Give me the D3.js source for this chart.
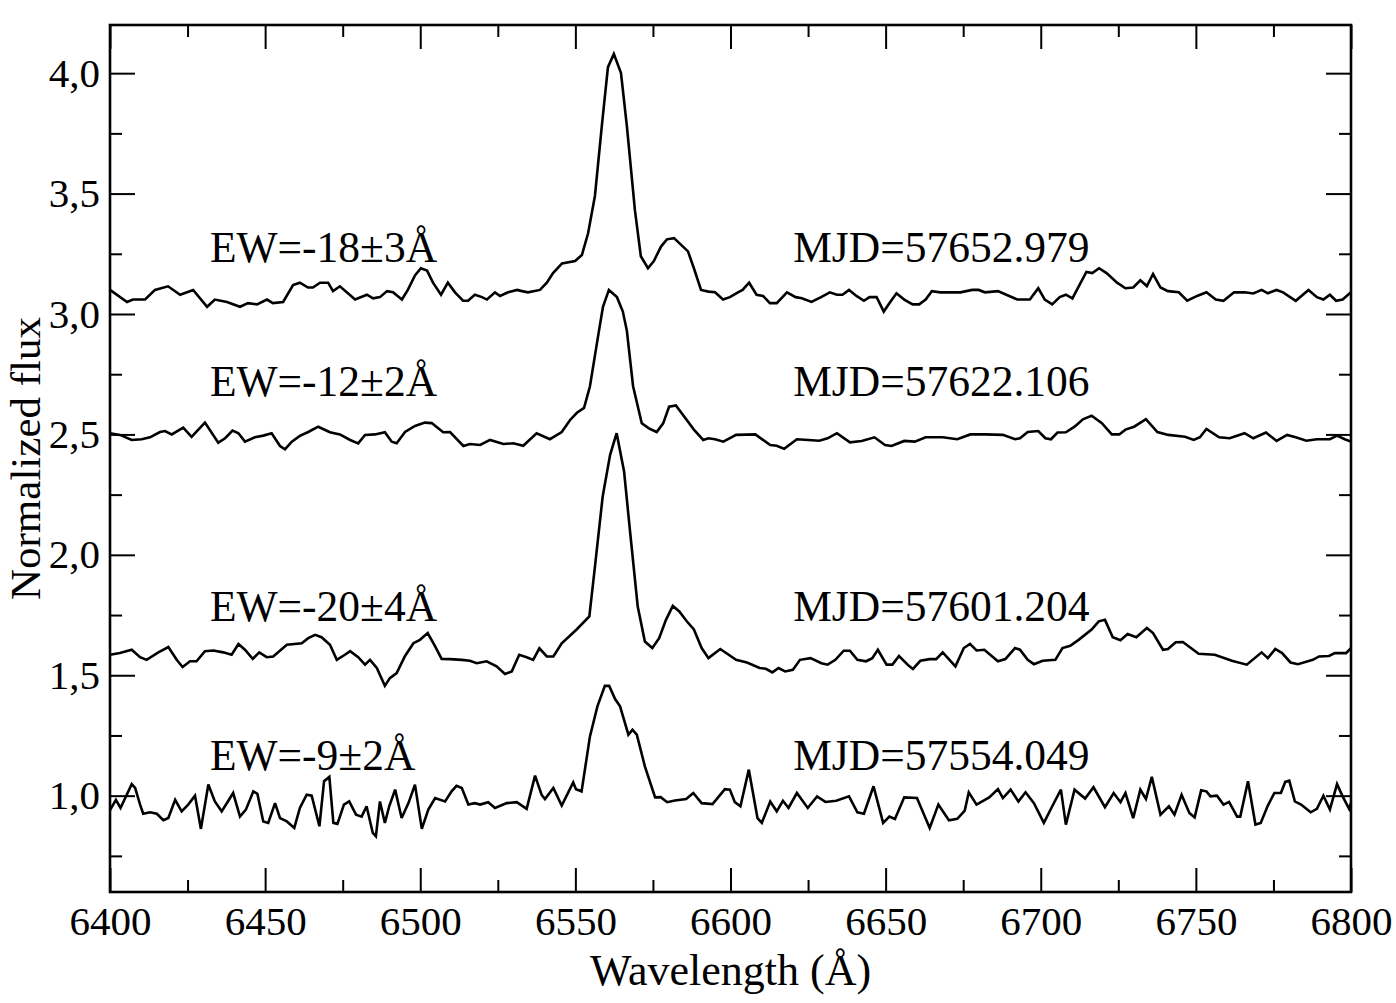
<!DOCTYPE html>
<html>
<head>
<meta charset="utf-8">
<script src="https://cdn.jsdelivr.net/npm/d3@7"></script>
<style>
  body { margin: 0; background: #fff; }
  text { font-family: "Liberation Serif", "Times New Roman", serif; fill: #000; }
</style>
</head>
<body>
<div id="viz"></div>
<script>
// ===== DATA =====
const mjdLabels = ['MJD=57652.979', 'MJD=57622.106', 'MJD=57601.204', 'MJD=57554.049'];
const ewLabels = ['EW=-18±3Å', 'EW=-12±2Å', 'EW=-20±4Å', 'EW=-9±2Å'];

const wave57652 = [6400.0,6405.5,6407.4,6411.3,6414.5,6418.7,6422.6,6426.8,6431.3,6433.8,6437.7,6441.9,6444.5,6447.4,6450.6,6452.5,6455.8,6459.0,6461.2,6463.8,6465.4,6467.7,6470.3,6471.9,6474.1,6479.0,6482.8,6484.8,6487.0,6489.3,6491.2,6494.1,6496.0,6498.3,6500.2,6502.2,6504.1,6506.7,6508.9,6511.2,6513.8,6515.4,6517.6,6519.9,6521.5,6524.1,6525.7,6528.3,6531.2,6532.8,6534.7,6538.6,6540.8,6542.8,6545.7,6549.9,6552.1,6554.1,6556.3,6558.6,6560.5,6562.4,6564.7,6566.6,6569.2,6571.1,6573.4,6575.3,6577.6,6579.5,6581.8,6586.3,6588.2,6590.5,6592.9,6595.0,6597.6,6599.8,6602.4,6603.9,6606.0,6608.4,6610.5,6612.7,6614.9,6618.2,6621.0,6623.0,6626.1,6629.2,6632.0,6634.3,6636.1,6638.2,6640.6,6643.0,6644.8,6647.1,6649.4,6651.2,6653.5,6656.0,6658.7,6660.8,6662.9,6664.9,6667.6,6671.1,6674.1,6677.9,6680.0,6682.0,6686.2,6688.9,6692.4,6696.5,6699.2,6701.3,6703.7,6706.1,6708.1,6710.2,6714.7,6716.6,6718.8,6721.2,6724.6,6727.3,6729.8,6732.1,6734.2,6736.2,6738.6,6741.0,6744.5,6747.2,6750.4,6753.4,6756.4,6758.9,6762.3,6765.7,6768.5,6771.2,6773.2,6776.0,6778.1,6782.2,6786.3,6789.0,6791.1,6793.2,6795.2,6797.3,6800.0];
const flux57652 = [3.10,3.05,3.06,3.06,3.10,3.115,3.08,3.10,3.03,3.06,3.05,3.03,3.045,3.04,3.06,3.045,3.05,3.12,3.13,3.11,3.11,3.13,3.13,3.095,3.115,3.06,3.08,3.065,3.07,3.095,3.09,3.06,3.10,3.16,3.19,3.18,3.13,3.08,3.13,3.09,3.055,3.055,3.08,3.07,3.06,3.09,3.075,3.09,3.10,3.095,3.09,3.10,3.13,3.17,3.21,3.22,3.245,3.335,3.49,3.79,4.025,4.08,4.00,3.78,3.43,3.24,3.19,3.22,3.28,3.31,3.315,3.26,3.19,3.10,3.093,3.09,3.06,3.07,3.09,3.10,3.13,3.08,3.075,3.045,3.045,3.09,3.07,3.065,3.05,3.07,3.09,3.08,3.08,3.10,3.075,3.055,3.07,3.07,3.01,3.045,3.086,3.06,3.04,3.04,3.06,3.095,3.09,3.09,3.09,3.10,3.10,3.09,3.095,3.08,3.06,3.06,3.107,3.06,3.04,3.07,3.08,3.065,3.175,3.17,3.19,3.17,3.13,3.107,3.11,3.14,3.116,3.166,3.11,3.095,3.09,3.055,3.075,3.09,3.06,3.055,3.09,3.09,3.085,3.10,3.086,3.10,3.09,3.055,3.10,3.07,3.06,3.08,3.055,3.06,3.09];

const wave57622 = [6400.0,6403.2,6407.0,6410.2,6412.9,6416.1,6417.7,6419.9,6423.6,6426.3,6430.6,6434.9,6437.1,6439.5,6441.4,6443.5,6446.7,6449.4,6452.1,6454.8,6456.4,6458.6,6461.2,6463.9,6467.1,6470.9,6474.1,6477.4,6480.0,6482.2,6485.4,6488.6,6490.8,6492.4,6495.1,6498.3,6501.5,6503.7,6507.4,6509.6,6513.9,6516.0,6519.3,6522.5,6526.8,6530.0,6533.2,6537.5,6541.8,6545.6,6548.3,6550.5,6552.8,6554.7,6557.6,6558.9,6560.8,6563.4,6565.3,6566.6,6568.6,6571.4,6573.7,6576.2,6578.3,6580.2,6582.4,6585.9,6588.2,6591.2,6592.9,6595.0,6597.7,6601.8,6608.0,6612.8,6614.9,6617.3,6621.4,6625.1,6628.6,6631.3,6634.3,6638.5,6642.3,6646.4,6649.8,6651.9,6656.0,6659.4,6662.9,6668.4,6673.1,6677.3,6682.1,6687.8,6691.7,6693.3,6695.8,6699.2,6701.5,6703.3,6705.4,6708.1,6710.9,6713.6,6716.4,6719.7,6722.9,6725.3,6727.3,6730.1,6733.9,6737.6,6741.1,6746.5,6749.3,6751.3,6753.4,6757.5,6760.9,6765.7,6768.5,6772.6,6776.0,6779.4,6782.2,6785.6,6789.0,6793.2,6795.5,6798.0,6800.0];
const flux57622 = [2.505,2.498,2.477,2.48,2.488,2.51,2.514,2.50,2.528,2.49,2.549,2.466,2.484,2.516,2.505,2.47,2.488,2.495,2.505,2.452,2.438,2.47,2.494,2.51,2.532,2.509,2.50,2.477,2.463,2.498,2.50,2.509,2.47,2.463,2.51,2.535,2.549,2.547,2.509,2.51,2.452,2.46,2.456,2.477,2.46,2.463,2.453,2.505,2.48,2.51,2.56,2.59,2.61,2.70,2.93,3.03,3.10,3.07,3.01,2.93,2.70,2.546,2.525,2.51,2.546,2.615,2.62,2.56,2.52,2.477,2.484,2.48,2.47,2.498,2.50,2.456,2.453,2.44,2.48,2.477,2.474,2.484,2.505,2.467,2.473,2.488,2.456,2.452,2.473,2.47,2.488,2.488,2.48,2.50,2.50,2.498,2.48,2.484,2.51,2.514,2.484,2.48,2.508,2.509,2.532,2.563,2.578,2.547,2.50,2.50,2.52,2.532,2.563,2.51,2.498,2.49,2.477,2.488,2.523,2.488,2.484,2.505,2.484,2.508,2.473,2.498,2.488,2.474,2.48,2.48,2.495,2.48,2.47];

const wave57601 = [6400.0,6403.2,6407.0,6409.7,6411.8,6415.6,6418.8,6421.5,6423.4,6425.8,6427.9,6430.6,6433.3,6436.5,6439.2,6441.4,6443.5,6446.0,6448.1,6450.5,6452.6,6457.0,6461.8,6463.9,6466.1,6468.2,6470.9,6473.1,6475.7,6477.4,6480.0,6482.2,6483.8,6486.0,6488.6,6490.2,6492.4,6495.1,6497.8,6499.9,6502.4,6504.8,6506.9,6509.6,6513.4,6516.0,6518.2,6521.4,6524.6,6527.3,6529.5,6531.9,6534.3,6536.4,6538.4,6540.8,6542.9,6545.6,6550.4,6554.5,6556.3,6558.8,6561.2,6563.3,6565.7,6567.6,6570.1,6572.4,6574.8,6577.0,6579.2,6581.4,6583.5,6585.9,6588.2,6590.7,6592.9,6596.7,6601.8,6605.3,6609.4,6611.4,6613.5,6615.5,6617.6,6620.1,6622.4,6625.8,6629.3,6631.3,6633.8,6636.5,6638.5,6640.9,6643.7,6645.7,6647.5,6650.3,6652.2,6654.3,6657.4,6658.8,6661.2,6664.2,6666.3,6668.4,6672.5,6675.2,6677.2,6679.3,6681.8,6686.2,6688.6,6691.7,6693.3,6695.8,6697.8,6700.6,6704.7,6707.0,6709.5,6712.2,6716.4,6718.7,6720.7,6723.2,6725.7,6728.0,6730.8,6734.2,6736.2,6739.4,6741.0,6743.5,6745.8,6750.9,6756.1,6761.6,6766.4,6771.2,6773.2,6775.6,6777.8,6780.5,6782.9,6787.7,6789.7,6792.9,6794.8,6798.4,6800.0];
const flux57601 = [1.585,1.592,1.606,1.575,1.564,1.595,1.617,1.564,1.534,1.558,1.558,1.60,1.603,1.595,1.585,1.63,1.606,1.568,1.595,1.575,1.578,1.627,1.633,1.654,1.668,1.658,1.627,1.564,1.585,1.60,1.575,1.544,1.564,1.53,1.456,1.488,1.509,1.58,1.633,1.647,1.675,1.62,1.568,1.567,1.564,1.56,1.55,1.558,1.537,1.505,1.516,1.585,1.575,1.564,1.612,1.578,1.578,1.633,1.69,1.744,1.95,2.242,2.415,2.505,2.346,2.10,1.785,1.64,1.613,1.654,1.73,1.788,1.765,1.724,1.69,1.613,1.571,1.609,1.564,1.553,1.53,1.527,1.512,1.53,1.516,1.523,1.564,1.571,1.55,1.544,1.564,1.602,1.602,1.564,1.558,1.571,1.606,1.544,1.544,1.58,1.54,1.526,1.56,1.567,1.567,1.595,1.537,1.613,1.63,1.603,1.606,1.558,1.567,1.613,1.606,1.564,1.546,1.56,1.564,1.613,1.622,1.647,1.69,1.724,1.73,1.658,1.645,1.671,1.658,1.696,1.675,1.606,1.609,1.637,1.638,1.589,1.585,1.56,1.544,1.595,1.571,1.609,1.592,1.553,1.546,1.564,1.578,1.58,1.592,1.592,1.613];

const wave57554 = [6400.0,6401.9,6403.4,6405.4,6407.0,6408.1,6409.7,6410.7,6412.9,6415.1,6417.2,6418.8,6421.0,6423.1,6425.2,6427.4,6429.3,6431.7,6433.8,6436.0,6439.7,6441.9,6443.8,6446.2,6447.5,6449.4,6451.0,6453.2,6454.8,6457.0,6459.4,6461.2,6463.4,6465.0,6467.5,6469.0,6470.7,6472.0,6473.3,6475.4,6477.1,6479.3,6481.1,6482.7,6484.7,6485.7,6487.0,6488.6,6490.0,6491.9,6494.0,6496.2,6498.3,6500.5,6502.6,6504.8,6508.0,6510.1,6511.7,6513.4,6515.5,6517.6,6519.3,6521.9,6524.1,6527.9,6531.1,6534.3,6537.0,6539.1,6540.2,6542.9,6545.6,6549.3,6550.2,6552.0,6554.7,6557.1,6559.5,6560.9,6562.8,6564.4,6567.1,6568.4,6569.8,6572.4,6575.7,6577.5,6579.6,6582.1,6585.7,6588.0,6590.7,6594.2,6598.2,6599.8,6601.4,6603.2,6605.9,6608.7,6610.1,6612.8,6614.9,6616.9,6618.7,6621.4,6624.9,6627.9,6630.6,6634.1,6638.2,6640.9,6643.0,6646.1,6649.2,6651.2,6653.0,6656.0,6660.1,6664.2,6667.0,6670.4,6673.1,6675.5,6676.8,6679.3,6683.4,6686.2,6687.8,6690.3,6692.8,6695.1,6697.8,6701.0,6703.7,6706.5,6708.1,6710.9,6714.3,6717.0,6720.7,6723.5,6725.7,6727.3,6729.8,6732.1,6733.9,6735.8,6738.6,6741.3,6743.1,6745.4,6747.9,6749.6,6751.7,6753.4,6754.7,6756.8,6758.9,6760.7,6763.3,6764.3,6766.8,6769.2,6770.9,6773.2,6775.3,6777.4,6778.8,6780.1,6781.9,6783.9,6787.0,6789.0,6791.1,6793.2,6795.5,6797.3,6799.4,6800.0];
const flux57554 = [0.94,0.983,0.949,1.004,1.048,1.032,0.963,0.925,0.931,0.925,0.898,0.907,0.983,0.935,0.963,1.00,0.862,1.046,0.976,0.935,1.011,0.913,0.942,1.018,1.008,0.893,0.887,0.969,0.907,0.893,0.866,0.949,1.004,1.00,0.873,1.06,1.078,0.887,0.883,0.963,0.976,0.921,0.913,0.956,0.845,0.831,0.976,0.887,0.956,1.025,0.907,0.969,1.046,0.862,0.942,0.99,0.976,1.018,1.041,1.032,0.963,0.969,0.963,0.973,0.949,0.969,0.973,0.945,1.083,1.004,0.986,1.032,0.959,1.055,1.027,1.018,1.246,1.371,1.456,1.456,1.401,1.371,1.253,1.274,1.253,1.122,0.993,0.994,0.973,0.98,0.986,1.011,0.969,0.965,1.027,1.025,0.973,0.956,1.108,0.907,0.887,0.976,0.935,0.979,0.949,1.011,0.949,0.997,0.974,0.979,0.997,0.931,0.925,1.039,0.887,0.913,0.903,0.993,0.990,0.866,0.963,0.898,0.904,0.938,1.014,0.963,0.993,1.027,0.990,1.025,0.976,1.014,0.969,0.887,0.956,1.025,0.880,1.025,0.988,1.035,0.952,1.011,0.973,1.011,0.907,1.025,0.986,1.078,0.921,0.956,0.921,1.004,0.928,0.910,1.022,1.018,0.997,1.00,0.963,0.974,0.913,0.913,1.06,0.880,0.887,0.959,1.011,1.011,1.057,1.062,0.976,0.963,0.931,0.945,1.00,0.942,1.048,0.997,0.945,0.97];

const xTicks = [6400, 6450, 6500, 6550, 6600, 6650, 6700, 6750, 6800];
const xMinorTicks = [6425, 6475, 6525, 6575, 6625, 6675, 6725, 6775];
const yTicks = [1.0, 1.5, 2.0, 2.5, 3.0, 3.5, 4.0];
const yMinorTicks = [0.75, 1.25, 1.75, 2.25, 2.75, 3.25, 3.75];

// where the two text labels of each spectrum sit (wavelength, flux of baseline)
const labelWaveEW = 6432.2;
const labelWaveMJD = 6620.2;
const labelFlux = [3.216, 2.66, 1.726, 1.108];

function drawChart() {
    /* ===== DIMENSIONS ===== */
    const width = 1396;
    const height = 1003;
    const margin = {top: 25, right: 45, bottom: 111, left: 110};
    const boundedWidth = width - margin.left - margin.right;
    const boundedHeight = height - margin.top - margin.bottom;

    const spectra = [
        {wave: wave57652, flux: flux57652},
        {wave: wave57622, flux: flux57622},
        {wave: wave57601, flux: flux57601},
        {wave: wave57554, flux: flux57554}
    ].map((s, i) => ({
        mjd: mjdLabels[i],
        ew: ewLabels[i],
        points: s.wave.map((w, j) => ({w: w, f: s.flux[j]}))
    }));

    /* ===== CANVAS ===== */
    const svg = d3.select('#viz')
        .append('svg')
            .attr('width', width)
            .attr('height', height);

    const viz = svg.append('g')
        .attr('transform', `translate(${margin.left}, ${margin.top})`);

    /* ===== SCALES ===== */
    const xScale = d3.scaleLinear()
        .domain([6400, 6800])
        .range([0, boundedWidth]);

    const yScale = d3.scaleLinear()
        .domain([0.6, 4.2])
        .range([boundedHeight, 0]);

    /* ===== DATA ===== */
    const line = d3.line()
        .x(d => xScale(d.w))
        .y(d => yScale(d.f));

    viz.selectAll('path.spectrum')
        .data(spectra)
        .join('path')
            .attr('class', 'spectrum')
            .attr('d', d => line(d.points))
            .attr('fill', 'none')
            .attr('stroke', '#000')
            .attr('stroke-width', 2.6)
            .attr('stroke-linejoin', 'miter')
            .attr('stroke-miterlimit', 3);

    /* ===== PERIPHERALS ===== */
    const comma = d3.formatLocale({decimal: ',', thousands: '.', grouping: [3], currency: ['', '']}).format('.1f');
    const tickFont = '41px';

    const styleAxis = g => {
        g.select('.domain').remove();
        g.selectAll('.tick line').attr('stroke', '#000').attr('stroke-width', 2);
        g.selectAll('.tick text')
            .style('font-family', '"Liberation Serif", "Times New Roman", serif')
            .style('font-size', tickFont)
            .attr('fill', '#000');
    };

    // bottom (major + minor), ticks point inward
    viz.append('g')
        .attr('transform', `translate(0, ${boundedHeight})`)
        .call(d3.axisBottom(xScale).tickValues(xTicks).tickSize(-24).tickPadding(14).tickFormat(d3.format('d')))
        .call(styleAxis);
    viz.append('g')
        .attr('transform', `translate(0, ${boundedHeight})`)
        .call(d3.axisBottom(xScale).tickValues(xMinorTicks).tickSize(-12).tickFormat(''))
        .call(styleAxis);
    // top
    viz.append('g')
        .call(d3.axisTop(xScale).tickValues(xTicks).tickSize(-24).tickFormat(''))
        .call(styleAxis);
    viz.append('g')
        .call(d3.axisTop(xScale).tickValues(xMinorTicks).tickSize(-12).tickFormat(''))
        .call(styleAxis);
    // left
    viz.append('g')
        .call(d3.axisLeft(yScale).tickValues(yTicks).tickSize(-25).tickPadding(10).tickFormat(comma))
        .call(styleAxis);
    viz.append('g')
        .call(d3.axisLeft(yScale).tickValues(yMinorTicks).tickSize(-12).tickFormat(''))
        .call(styleAxis);
    // right
    viz.append('g')
        .attr('transform', `translate(${boundedWidth}, 0)`)
        .call(d3.axisRight(yScale).tickValues(yTicks).tickSize(-25).tickFormat(''))
        .call(styleAxis);
    viz.append('g')
        .attr('transform', `translate(${boundedWidth}, 0)`)
        .call(d3.axisRight(yScale).tickValues(yMinorTicks).tickSize(-12).tickFormat(''))
        .call(styleAxis);

    // frame
    viz.append('rect')
        .attr('width', boundedWidth)
        .attr('height', boundedHeight)
        .attr('fill', 'none')
        .attr('stroke', '#000')
        .attr('stroke-width', 2.6);

    // annotations
    const labels = viz.selectAll('g.labels')
        .data(spectra)
        .join('g')
            .attr('class', 'labels')
            .style('font-size', '43.5px');
    labels.append('text')
        .attr('x', xScale(labelWaveEW))
        .attr('y', (d, i) => yScale(labelFlux[i]))
        .text(d => d.ew);
    labels.append('text')
        .attr('x', xScale(labelWaveMJD))
        .attr('y', (d, i) => yScale(labelFlux[i]))
        .text(d => d.mjd);

    // axis titles
    svg.append('text')
        .attr('x', margin.left + boundedWidth / 2)
        .attr('y', 985)
        .attr('text-anchor', 'middle')
        .style('font-size', '44px')
        .text('Wavelength (Å)');

    svg.append('text')
        .attr('transform', `translate(40, ${margin.top + boundedHeight / 2}) rotate(-90)`)
        .attr('text-anchor', 'middle')
        .style('font-size', '43px')
        .text('Normalized flux');
}

drawChart();
</script>
</body>
</html>
